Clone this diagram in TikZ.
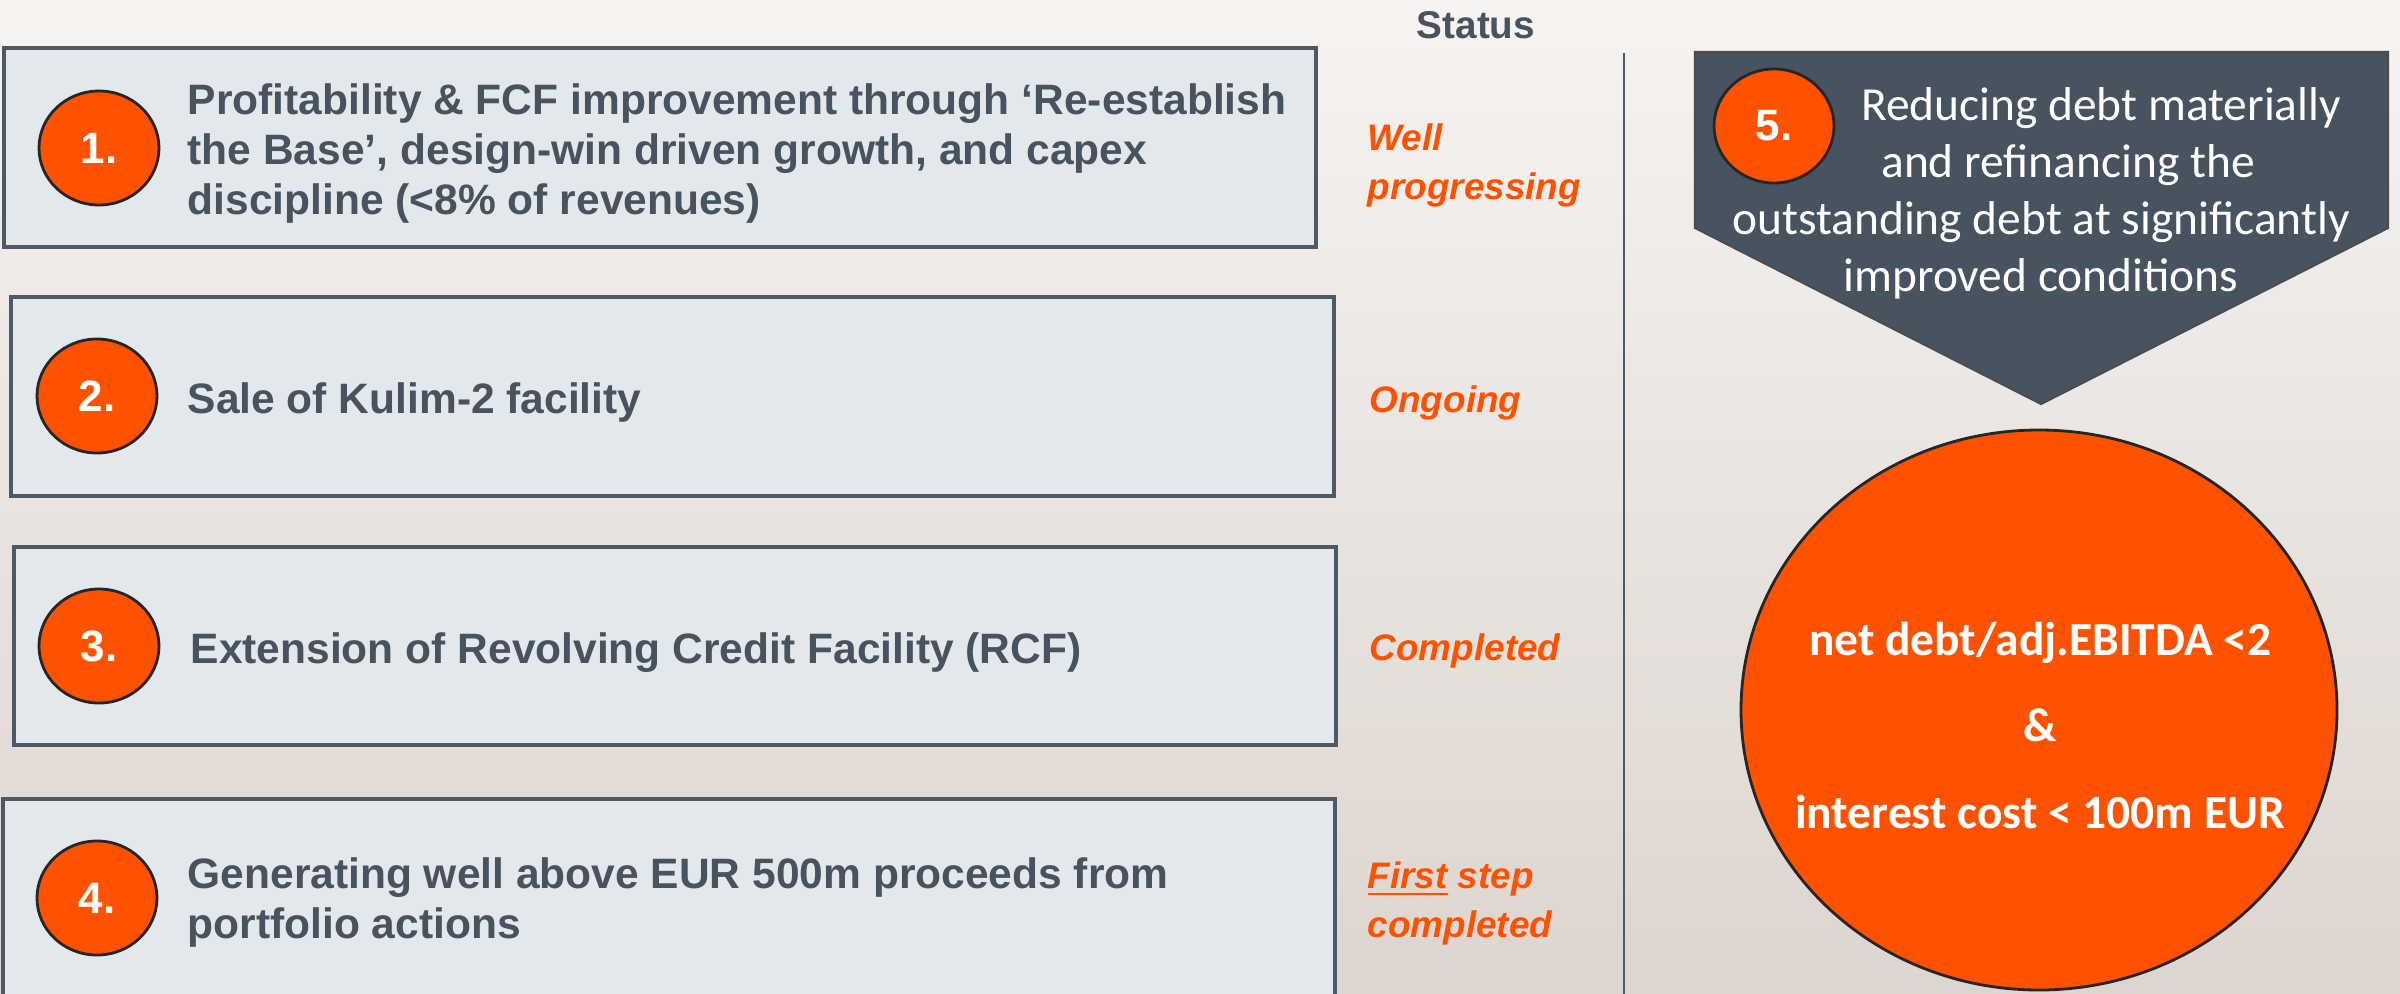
\documentclass[tikz,border=0pt]{standalone}
\usepackage{fontspec}
\setmainfont{Liberation Sans}
\newfontfamily\calibri{Carlito}
\usetikzlibrary{shapes.geometric}

\definecolor{slate}{HTML}{47545F}
\definecolor{boxfill}{HTML}{E3E8EC}
\definecolor{boxline}{HTML}{4D5A66}
\definecolor{accent}{HTML}{FF5200}
\definecolor{bgtop}{HTML}{F6F3F1}
\definecolor{bgbottom}{HTML}{DDD5CF}

\begin{document}
\begin{tikzpicture}[
        item_box/.style={draw=boxline, fill=boxfill, line width=0.9pt, rectangle, minimum height=1.99cm},
        num_circle/.style={ellipse, draw=black!85, fill=accent, line width=0.8pt, minimum width=1.2cm, minimum height=1.14cm, inner sep=0pt, text=white, font=\fontsize{12.5}{14}\selectfont\bfseries},
        item_text/.style={anchor=base west, align=left, inner sep=0pt, text=slate, font=\fontsize{12.1}{14.2}\selectfont\bfseries},
        status_text/.style={anchor=base west, align=left, inner sep=0pt, text=accent, font=\fontsize{10.5}{13.7}\selectfont\bfseries\itshape},
        goal_text/.style={anchor=base, align=center, inner sep=0pt, text=white, font=\calibri\fontsize{13.5}{16.2}\selectfont},
        target_text/.style={anchor=base, align=center, inner sep=0pt, text=white, font=\calibri\fontsize{13.5}{24.5}\selectfont\bfseries}
    ]
        % page and background
        \clip (0,0) rectangle (24,-9.93);
        \shade[top color=bgtop, bottom color=bgbottom] (0,0) rectangle (24,-9.93);

        % Action items (text nodes sit on the baseline of their last line)
        \node (b1) at (6.60, -1.475) [item_box, minimum width=13.12cm] {};
        \node (b2) at (6.725, -3.965) [item_box, minimum width=13.23cm] {};
        \node (b3) at (6.75, -6.46) [item_box, minimum width=13.22cm, minimum height=1.98cm] {};
        \node (b4) at (6.69, -9.06) [item_box, minimum width=13.32cm, minimum height=2.14cm] {};

        \node (n1) at (0.99, -1.48) [num_circle] {1.};
        \node (n2) at (0.97, -3.96) [num_circle] {2.};
        \node (n3) at (0.99, -6.46) [num_circle] {3.};
        \node (n4) at (0.97, -8.98) [num_circle] {4.};

        \node (t1) at (1.87, -2.14) [item_text] {Profitability \& FCF improvement through ‘Re-establish\\the Base’, design-win driven growth, and capex\\discipline (<8\% of revenues)};
        \node (t2) at (1.87, -4.13) [item_text] {Sale of Kulim-2 facility};
        \node (t3) at (1.90, -6.63) [item_text] {Extension of Revolving Credit Facility (RCF)};
        \node (t4) at (1.87, -9.38) [item_text] {Generating well above EUR 500m proceeds from\\portfolio actions};

        % Status column
        \node (status) at (14.76, -0.38) [anchor=base, inner sep=0pt, text=slate, font=\fontsize{11}{13}\selectfont\bfseries] {Status};
        \node (s1) at (13.67, -1.99) [status_text] {Well\\progressing};
        \node (s2) at (13.69, -4.12) [status_text] {Ongoing};
        \node (s3) at (13.69, -6.60) [status_text] {Completed};
        \node (s4) at (13.67, -9.37) [status_text] {\underline{First} step\\completed};

        \draw[boxline, line width=0.5pt] (16.24, -0.53) -- (16.24, -10);

        % Debt goal
        \draw[fill=slate, draw=black!70, line width=0.6pt] (16.95, -0.52) -- (23.88, -0.52) -- (23.88, -2.28) -- (20.41, -4.04) -- (16.95, -2.28) -- cycle;
        \node (n5) at (17.74, -1.26) [num_circle] {5.};
        \node (g5) at (20.41, -2.91) [goal_text] {\hspace*{1.2cm}Reducing debt materially\\\hspace*{0.54cm}and refinancing the\\outstanding debt at significantly\\improved conditions};

        \node (tgt) at (20.39, -7.10) [ellipse, draw=black!85, fill=accent, line width=0.8pt, minimum width=5.96cm, minimum height=5.60cm] {};
        \node (tgt_text) at (20.40, -8.28) [target_text] {net debt/adj.EBITDA <2\\\&\\interest cost < 100m EUR};

    \end{tikzpicture}
\end{document}
